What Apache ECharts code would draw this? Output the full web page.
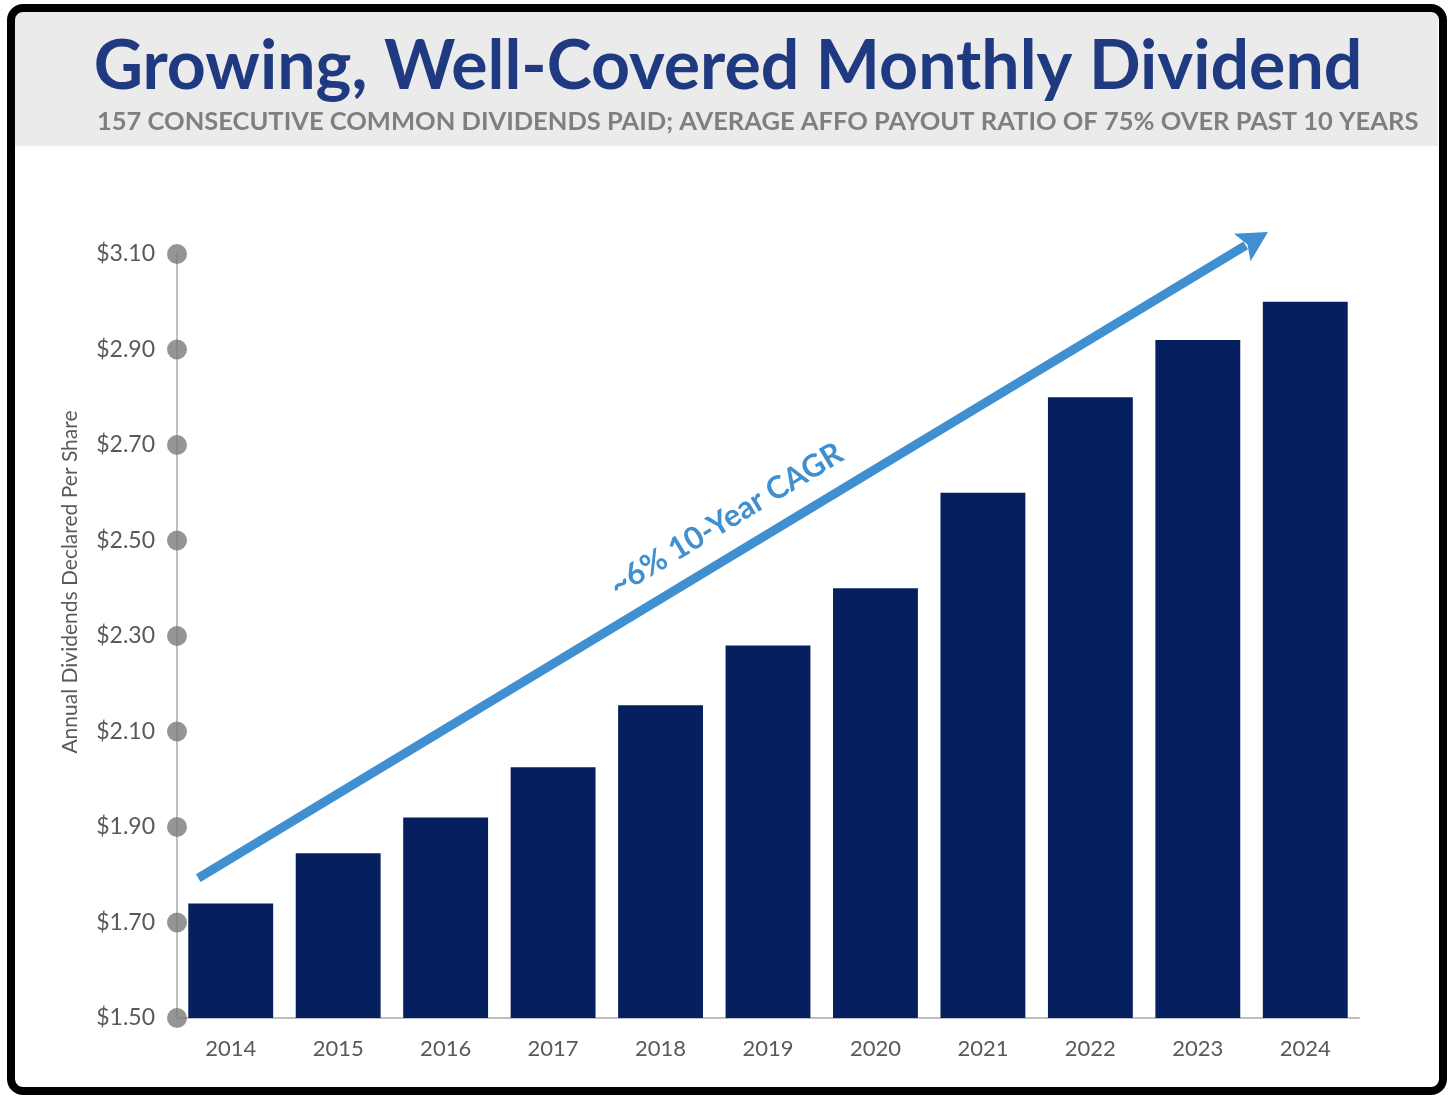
<!DOCTYPE html>
<html>
<head>
<meta charset="UTF-8">
<title>Growing, Well-Covered Monthly Dividend</title>
<script src="https://cdn.jsdelivr.net/npm/echarts@6/dist/echarts.min.js"></script>
<style>
  html, body { margin: 0; padding: 0; background: #fff; }
  #container { width: 1456px; height: 1099px; }
</style>
</head>
<body>
<div id="container"></div>
<script type="text/javascript">
  // data
  var years = ['2014', '2015', '2016', '2017', '2018', '2019', '2020', '2021', '2022', '2023', '2024'];
  var dividends = [1.74, 1.845, 1.92, 2.025, 2.155, 2.28, 2.40, 2.60, 2.80, 2.92, 3.00];
  var yTicks = [1.50, 1.70, 1.90, 2.10, 2.30, 2.50, 2.70, 2.90, 3.10];

  // trend arrow anchors: [share of plot width, $ value]
  var trendFrom = [0.018, 1.793];
  var trendTo = [0.923, 3.146];

  var titleText = 'Growing, Well-Covered Monthly Dividend';
  var subText = '157 CONSECUTIVE COMMON DIVIDENDS PAID; AVERAGE AFFO PAYOUT RATIO OF 75% OVER PAST 10 YEARS';
  var trendLabel = '~6% 10-Year CAGR';
  var yName = 'Annual Dividends Declared Per Share';

  var font = 'Lato, "Open Sans", sans-serif';
  var blue = '#3f8fd1';

  var dom = document.getElementById('container');
  var myChart = echarts.init(dom);

  var option = {
    animation: false,
    title: [{
      text: titleText,
      left: 'center',
      top: 28,
      textStyle: { fontFamily: font, fontWeight: 'bold', fontSize: 68, color: '#1f3a80' }
    }, {
      text: subText,
      left: 92,
      top: 104,
      textStyle: { fontFamily: font, fontWeight: 'bold', fontSize: 25.5, color: '#7f7f7f' }
    }],
    grid: { left: 177, right: 97, top: 254, bottom: 81 },
    xAxis: [{
      type: 'category',
      data: years,
      axisLine: { lineStyle: { color: '#bfbfbf', width: 2 } },
      axisTick: { show: false },
      axisLabel: { color: '#595959', fontSize: 22, fontFamily: font, margin: 20 }
    }, {
      type: 'value',
      min: 0,
      max: 1,
      show: false
    }],
    yAxis: {
      type: 'value',
      min: 1.5,
      max: 3.1,
      interval: 0.2,
      splitLine: { show: false },
      axisTick: { show: false },
      axisLine: { show: true, lineStyle: { color: '#bfbfbf', width: 2 } },
      axisLabel: {
        color: '#595959', fontSize: 23, fontFamily: font, margin: 22,
        formatter: function (v) { return '$' + v.toFixed(2); }
      }
    },
    series: [{
      name: 'Dividends',
      type: 'bar',
      data: dividends,
      barCategoryGap: '21%',
      itemStyle: { color: '#06205f' }
    }, {
      name: 'ticks',
      type: 'scatter',
      xAxisIndex: 1,
      clip: false,
      symbolSize: 20,
      z: 5,
      itemStyle: { color: '#7a7a7a' },
      data: yTicks.map(function (v) { return [0, v]; })
    }]
  };

  myChart.setOption(option);

  // arrow and label follow the axes
  var p0 = myChart.convertToPixel({ seriesIndex: 1 }, trendFrom);
  var p1 = myChart.convertToPixel({ seriesIndex: 1 }, trendTo);
  var dx = p1[0] - p0[0], dy = p1[1] - p0[1];
  var len = Math.sqrt(dx * dx + dy * dy);
  var ux = dx / len, uy = dy / len;
  var nx = uy, ny = -ux; // normal pointing up-left
  var headLen = 30, headHalf = 16, notch = 24;
  var tip = p1;
  var backC = [tip[0] - ux * headLen, tip[1] - uy * headLen];
  var head = [
    tip,
    [backC[0] + nx * headHalf, backC[1] + ny * headHalf],
    [tip[0] - ux * notch, tip[1] - uy * notch],
    [backC[0] - nx * headHalf, backC[1] - ny * headHalf]
  ];
  var shaftEnd = [tip[0] - ux * (notch + 2), tip[1] - uy * (notch + 2)];
  var t = 0.51;
  var mid = [p0[0] + dx * t + nx * 34, p0[1] + dy * t + ny * 34];

  myChart.setOption({
    graphic: [{
      type: 'rect',
      z: -10,
      shape: { x: 12, y: 12, width: 1426, height: 134 },
      style: { fill: '#ebebeb' }
    }, {
      type: 'line',
      z: 10,
      shape: { x1: p0[0], y1: p0[1], x2: shaftEnd[0], y2: shaftEnd[1] },
      style: { stroke: blue, lineWidth: 9 }
    }, {
      type: 'polygon',
      z: 10,
      shape: { points: head },
      style: { fill: blue }
    }, {
      type: 'text',
      z: 10,
      x: mid[0],
      y: mid[1],
      rotation: -Math.atan2(dy, dx),
      style: {
        text: trendLabel, fill: blue, fontSize: 31, fontWeight: 'bold',
        fontFamily: font, align: 'center', verticalAlign: 'middle'
      }
    }, {
      type: 'text',
      x: 70,
      y: 582,
      rotation: Math.PI / 2,
      style: {
        text: yName, fill: '#595959', fontSize: 21, fontFamily: font,
        align: 'center', verticalAlign: 'middle'
      }
    }, {
      type: 'rect',
      z: 100,
      shape: { x: 11, y: 8, width: 1432, height: 1083, r: 12 },
      style: { fill: null, stroke: '#000', lineWidth: 8 }
    }]
  });
</script>
</body>
</html>
